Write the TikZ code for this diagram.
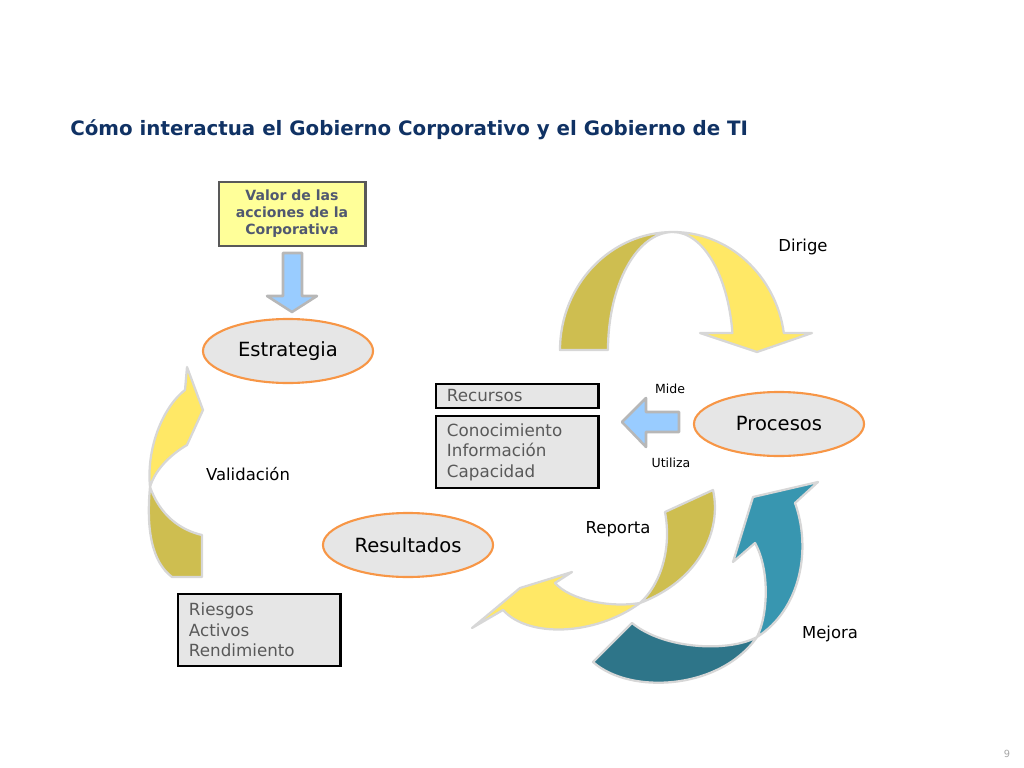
\documentclass[tikz,border=0pt]{standalone}
\usepackage{fontspec}
\setmainfont{DejaVu Sans}
\usepackage{xcolor}
\definecolor{titleblue}{RGB}{16,50,100}
\definecolor{valuefill}{RGB}{255,255,153}
\definecolor{valuetext}{RGB}{80,88,112}
\definecolor{boxgray}{RGB}{230,230,230}
\definecolor{boxtext}{RGB}{89,89,89}
\definecolor{ovalorange}{RGB}{247,150,70}
\definecolor{arrowblue}{RGB}{153,204,255}
\definecolor{rimgray}{RGB}{215,215,215}
\definecolor{olivegold}{RGB}{206,190,80}
\definecolor{sunyellow}{RGB}{255,232,102}
\definecolor{deepteal}{RGB}{46,117,137}
\definecolor{lightteal}{RGB}{56,150,176}
\usepackage{tikz}
\usetikzlibrary{shapes.geometric}
\newcommand{\widthbox}{4.05cm}
\newcommand{\widthoval}{4.25cm}
\tikzset{
    every node/.style={inner sep=0pt},
    oval/.style={ellipse, draw=ovalorange, line width=1.5pt, fill=boxgray, minimum width=\widthoval, minimum height=1.6cm, font=\fontsize{13.9}{16}\selectfont},
    listbox/.style={draw=black, line width=2.1pt, fill=boxgray, minimum width=\widthbox, text width=3.5cm, align=left, text=boxtext, font=\fontsize{11.9}{14.6}\selectfont},
    valuebox/.style={draw=black!65, line width=2.1pt, fill=valuefill, minimum width=3.65cm, minimum height=1.6cm, align=center, text=valuetext, font=\bfseries\fontsize{10}{12.1}\selectfont},
    wordlabel/.style={font=\fontsize{11.7}{14}\selectfont},
    smallword/.style={font=\fontsize{8.9}{11}\selectfont},
    band/.style={draw=rimgray, line width=1.6pt, line join=round},
    flatarrow/.style={draw=rimgray!85!black, line width=1.8pt, fill=arrowblue, line join=round}
}

\begin{document}
\begin{tikzpicture}[x=0.025cm, y=-0.025cm]

      \useasboundingbox (0,0) rectangle (1024,768);

      \filldraw[band, fill=olivegold] (560,350)
          arc[start angle=180, end angle=270, x radius=113, y radius=118]
          arc[start angle=270, end angle=180, x radius=65, y radius=118] -- cycle;
      \filldraw[band, fill=sunyellow] (673,232)
          arc[start angle=270, end angle=351.7, x radius=112, y radius=118]
          -- (812,333) -- (757,352) -- (700,333) -- (732.4,333)
          arc[start angle=351.7, end angle=270, x radius=60, y radius=118] -- cycle;

      \filldraw[band, fill=olivegold] (150,487) .. controls (160,515) and (180,530) .. (202,535)
          -- (202,577) -- (172,577) .. controls (152,562) and (146,530) .. (150,487) -- cycle;
      \filldraw[band, fill=sunyellow] (150,487) .. controls (146,445) and (165,405) .. (185,390)
          -- (187,367) -- (203,410) -- (187,445) .. controls (170,455) and (155,470) .. (150,487) -- cycle;

      \filldraw[band, fill=olivegold] (665,512) -- (713,490) .. controls (722,530) and (700,580) .. (640,603)
          .. controls (660,585) and (672,550) .. (665,512) -- cycle;
      \filldraw[band, fill=sunyellow] (640,603) .. controls (610,608) and (570,600) .. (555,583)
          -- (572,572) -- (520,588) -- (472,628) -- (503,610)
          .. controls (528,638) and (595,636) .. (640,603) -- cycle;

      \filldraw[band, fill=deepteal] (632,623) -- (593,662) .. controls (630,695) and (720,690) .. (757,637)
          .. controls (730,652) and (665,650) .. (632,623) -- cycle;
      \filldraw[band, fill=lightteal] (757,637) .. controls (800,610) and (812,550) .. (795,503)
          -- (818,482) -- (753,497) -- (733,562) -- (755,543)
          .. controls (770,570) and (768,615) .. (757,637) -- cycle;

      \filldraw[flatarrow] (283,253) -- (302,253) -- (302,296) -- (317,296) -- (292,312)
          -- (267,296) -- (283,296) -- cycle;
      \filldraw[flatarrow] (679,412) -- (679,432) -- (646,432) -- (646,447) -- (622,422)
          -- (646,398) -- (646,412) -- cycle;

      \path
          (70,130) node[anchor=west, text=titleblue, font=\bfseries\fontsize{14.1}{17}\selectfont] (titulo)
              {Cómo interactua el Gobierno Corporativo y el Gobierno de TI}
          (292,214) node[valuebox] (valor) {Valor de las\\acciones de la\\Corporativa}
          (288,351) node[oval] (estrategia) {Estrategia}
          (779,424) node[oval] (procesos) {Procesos}
          (408,545) node[oval] (resultados) {Resultados}
          (517,396) node[listbox, minimum height=0.6cm] (recursos) {Recursos}
          (517,452) node[listbox, minimum height=1.8cm] (conocimiento) {Conocimiento\\Información\\Capacidad}
          (259,630) node[listbox, minimum height=1.8cm] (riesgos) {Riesgos\\Activos\\Rendimiento};

      \path
          (803,247) node[wordlabel] (dirige) {Dirige}
          (670,389) node[smallword] (mide) {Mide}
          (671,463) node[smallword] (utiliza) {Utiliza}
          (248,474) node[wordlabel] (validacion) {Validación}
          (618,529) node[wordlabel] (reporta) {Reporta}
          (830,634) node[wordlabel] (mejora) {Mejora}
          (1007,754) node[text=black!35, font=\fontsize{7}{8}\selectfont] (pagina) {9};
    \end{tikzpicture}
\end{document}
